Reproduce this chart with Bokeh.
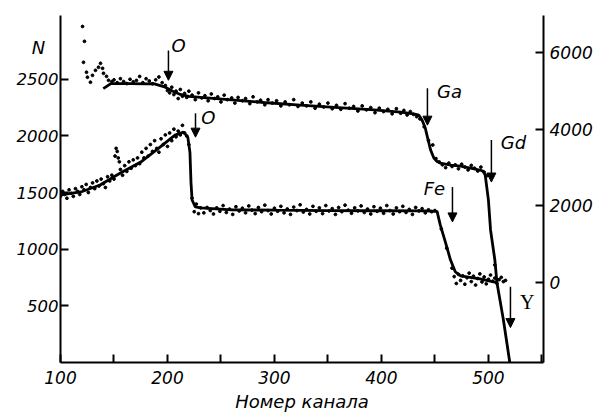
from bokeh.plotting import figure
from bokeh.models import (Range1d, LinearAxis, FixedTicker, Label, Arrow, NormalHead)
from bokeh.embed import file_html
from bokeh.resources import INLINE

# ---- data ----
# upper curve (left axis, N)
upper_line_x = [140, 147, 165, 180, 187, 198, 205, 212, 220, 231, 260, 290, 324, 360, 390, 418,
                430, 435, 438, 441, 443, 446, 449, 452, 455, 465, 474, 480, 492, 495, 497,
                500, 502, 506, 508, 514, 520]
upper_line_y = [2418, 2461, 2462, 2460, 2461, 2430, 2395, 2366, 2350, 2340, 2318, 2295, 2271, 2250, 2232, 2210,
                2195, 2183, 2140, 2069, 1990, 1875, 1805, 1775, 1760, 1742, 1734, 1722, 1699, 1690, 1655,
                1435, 1170, 907, 704, 378, 0]

upper_dots_x = [120.6, 122.4, 121.5, 124.3, 125.2, 128, 129.9, 132.7, 135.5, 137.4, 139.3, 140.2, 143, 144.9, 148,
                150, 153, 156, 159, 162, 165, 168, 171, 174, 177, 180, 183, 186, 189, 192, 195, 198,
                200, 202, 204, 206, 208, 210, 212, 214, 216, 218, 220, 223, 226, 229, 232, 235, 238, 241,
                244, 247, 250, 253, 256, 260, 263, 266, 270, 273, 277, 280, 284, 287, 291, 294, 298, 302,
                306, 310, 314, 318, 322, 326, 330, 334, 338, 342, 346, 350, 354, 358, 362, 366, 370, 374,
                378, 382, 386, 390, 394, 398, 402, 406, 410, 414, 418, 421, 424, 427, 430, 433, 436, 440,
                444, 448, 451, 454, 457, 460, 463, 466, 469, 472, 475, 478, 481, 484, 487, 490, 493, 496,
                499, 506]
upper_dots_y = [2966, 2835, 2650, 2562, 2518, 2474, 2535, 2579, 2606, 2641, 2597, 2553, 2526, 2491, 2480,
                2495, 2470, 2505, 2480, 2462, 2500, 2478, 2490, 2525, 2470, 2505, 2485, 2460, 2495, 2520, 2470, 2445,
                2400, 2380, 2430, 2365, 2395, 2330, 2410, 2350, 2375, 2340, 2395, 2360, 2320, 2380, 2335, 2355, 2310, 2370,
                2330, 2345, 2300, 2360, 2320, 2335, 2290, 2340, 2310, 2330, 2285, 2345, 2300, 2315, 2275, 2320, 2290, 2310,
                2265, 2300, 2275, 2320, 2260, 2290, 2265, 2300, 2245, 2280, 2255, 2290, 2240, 2270, 2235, 2285, 2245, 2260,
                2220, 2265, 2230, 2250, 2205, 2245, 2215, 2235, 2195, 2240, 2200, 2225, 2185, 2215, 2190, 2170, 2150, 2080,
                1960, 1920, 1800, 1770, 1745, 1720, 1760, 1730, 1745, 1710, 1750, 1725, 1700, 1740, 1715, 1690, 1725, 1680,
                1650, 860]

# lower curve (right axis)
lower_line_x = [100, 119, 137, 156, 175, 193, 207, 215, 219, 221, 222, 223, 226, 231, 260, 300, 350,
                400, 440, 452, 455, 460, 464.5, 469, 474, 492, 508]
lower_line_y = [2286, 2364, 2545, 2857, 3143, 3532, 3844, 3922, 3792, 3400, 2600, 2156, 1974, 1948, 1900, 1890, 1880,
                1875, 1870, 1860, 1506, 1039, 597, 286, 180, 100, 0]

lower_dots_x = [100, 102, 104, 106, 108, 110, 112, 114, 116, 118, 120, 122, 124, 126, 128, 130, 132, 134, 136, 138,
                140, 142, 144, 146, 148, 150, 151, 152, 153, 154, 155, 156, 158, 160, 162, 164, 166, 168, 170, 172,
                174, 176, 178, 180, 182, 184, 186, 188, 190, 192, 194, 196, 198, 200, 202, 204, 206, 208, 210, 212,
                214, 216, 218, 220, 223, 225, 227, 229, 231, 234, 237, 240, 243, 246, 249, 252, 255, 258, 261, 264,
                267, 270, 273, 276, 279, 282, 285, 288, 291, 294, 297, 300, 303, 306, 309, 312, 315, 318, 321, 324,
                327, 330, 333, 336, 339, 342, 345, 348, 351, 354, 357, 360, 363, 366, 369, 372, 375, 378, 381, 384,
                387, 390, 393, 396, 399, 402, 405, 408, 411, 414, 417, 420, 423, 426, 429, 432, 435, 438, 441, 444,
                447, 450, 456, 461, 466, 468, 470, 472, 474, 476, 478, 480, 482, 484, 486, 488, 490, 492, 494, 496,
                498, 500, 502, 504, 506, 508, 510, 512, 514, 516]
lower_dots_y = [2250, 2380, 2300, 2200, 2420, 2330, 2250, 2450, 2380, 2300, 2500, 2420, 2560, 2350, 2480, 2600, 2450, 2650, 2520, 2700,
                2580, 2480, 2760, 2650, 2800, 2700, 3300, 3500, 3420, 3250, 3150, 2950, 2800, 3050, 2900, 3150, 2980, 3200, 3050, 3250,
                3100, 3400, 3250, 3500, 3300, 3600, 3420, 3700, 3500, 3400, 3750, 3600, 3850, 3550, 3900, 3700, 4000, 3800, 3950, 3850,
                4100, 3900, 3820, 3600, 2200, 1850, 2050, 1800, 1950, 1820, 1960, 1880, 1790, 1950, 1860, 2010, 1830, 1920, 1780, 1980,
                1870, 1940, 1820, 2000, 1890, 1800, 1960, 1850, 2020, 1880, 1790, 1940, 1860, 1990, 1820, 1920, 1780, 1970, 1880, 2030,
                1840, 1910, 1790, 1990, 1860, 1950, 1800, 2010, 1870, 1930, 1780, 1960, 1850, 2020, 1890, 1810, 1950, 1870, 2000, 1830,
                1920, 1790, 1980, 1860, 1940, 1810, 2010, 1880, 1790, 1950, 1850, 1990, 1830, 1910, 1780, 1960, 1870, 1930, 1820, 1900,
                1850, 1880, 1400, 900, 380, 160, -20, 220, 60, 180, -40, 130, 250, 30, 170, -60, 110, 230, 20, 150,
                -30, 90, 200, 40, 120, -20, 80, 140, 30, 60]

x_ticks = [100, 150, 200, 250, 300, 350, 400, 450, 500, 550]
x_labels = {100: "100", 150: "", 200: "200", 250: "", 300: "300", 350: "", 400: "400", 450: "", 500: "500", 550: ""}
left_ticks = [500, 1000, 1500, 2000, 2500]
right_ticks = [0, 2000, 4000, 6000]

# element markers: (text, arrow x, arrow y start, arrow y end, label x, label y)
markers = [
    ("O", 200.9, 2755, 2491, 210.3, 2799),
    ("O", 226.2, 2201, 1989, 238.3, 2165),
    ("Ga", 443.0, 2421, 2095, 463.6, 2394),
    ("Gd", 502.8, 1963, 1593, 523.4, 1945),
    ("Fe", 466.4, 1549, 1241, 449.5, 1540),
    ("Y", 520.6, 669, 308, 536.4, 537),
]

FONT = "DejaVu Sans"

p = figure(width=597, height=414, output_backend="svg", toolbar_location=None,
           x_range=Range1d(100, 551.5), y_range=Range1d(0, 3063),
           min_border_left=60, min_border_right=54, min_border_top=15, min_border_bottom=51,
           x_axis_location=None, y_axis_location=None)
p.extra_y_ranges = {"right": Range1d(-2078, 6961)}
p.outline_line_color = None
p.xgrid.visible = False
p.ygrid.visible = False
p.background_fill_color = "white"
p.border_fill_color = "white"

def style_axis(ax, ticks, standoff, size="17px"):
    ax.ticker = FixedTicker(ticks=ticks)
    ax.axis_line_width = 2
    ax.axis_line_color = "black"
    ax.major_tick_line_width = 2
    ax.major_tick_line_color = "black"
    ax.major_tick_in = 8
    ax.major_tick_out = 0
    ax.minor_tick_line_color = None
    ax.major_label_text_font = FONT
    ax.major_label_text_font_style = "italic"
    ax.major_label_text_font_size = size
    ax.major_label_text_color = "black"
    ax.major_label_standoff = standoff

xa = LinearAxis(axis_label="Номер канала")
style_axis(xa, x_ticks, 8)
xa.major_label_overrides = x_labels
xa.axis_label_text_font = FONT
xa.axis_label_text_font_style = "italic"
xa.axis_label_text_font_size = "18px"
xa.axis_label_text_color = "black"
xa.axis_label_standoff = 4
p.add_layout(xa, "below")

ya = LinearAxis()
style_axis(ya, left_ticks, 2, "16.5px")
p.add_layout(ya, "left")

yr = LinearAxis(y_range_name="right")
style_axis(yr, right_ticks, 6)
p.add_layout(yr, "right")

# curves
p.line(upper_line_x, upper_line_y, line_color="black", line_width=2.8)
p.scatter(upper_dots_x, upper_dots_y, size=2.8, color="black")
p.line(lower_line_x, lower_line_y, line_color="black", line_width=2.8, y_range_name="right")
p.scatter(lower_dots_x, lower_dots_y, size=2.8, color="black", y_range_name="right")

for txt, ax_, ys, ye, lx, ly in markers:
    p.add_layout(Arrow(x_start=ax_, y_start=ys, x_end=ax_, y_end=ye, line_width=1.5, line_color="black",
                       end=NormalHead(size=9, fill_color="black", line_color="black")))
    if txt == "Y":
        lab = Label(x=lx, y=ly, text=txt, text_font="Liberation Serif", text_font_size="20px",
                    text_align="center", text_baseline="middle", text_color="black")
    else:
        lab = Label(x=lx, y=ly, text=txt, text_font=FONT, text_font_style="italic", text_font_size="18px",
                    text_align="center", text_baseline="middle", text_color="black")
    p.add_layout(lab)

# axis name "N" in the left side panel (screen units within that panel)
p.add_layout(Label(x=38, y=315, x_units="screen", y_units="screen", text="N", text_font=FONT,
                   text_font_style="italic", text_font_size="18px",
                   text_align="center", text_baseline="middle", text_color="black"), "left")

open("out.html", "w").write(file_html(p, INLINE))
